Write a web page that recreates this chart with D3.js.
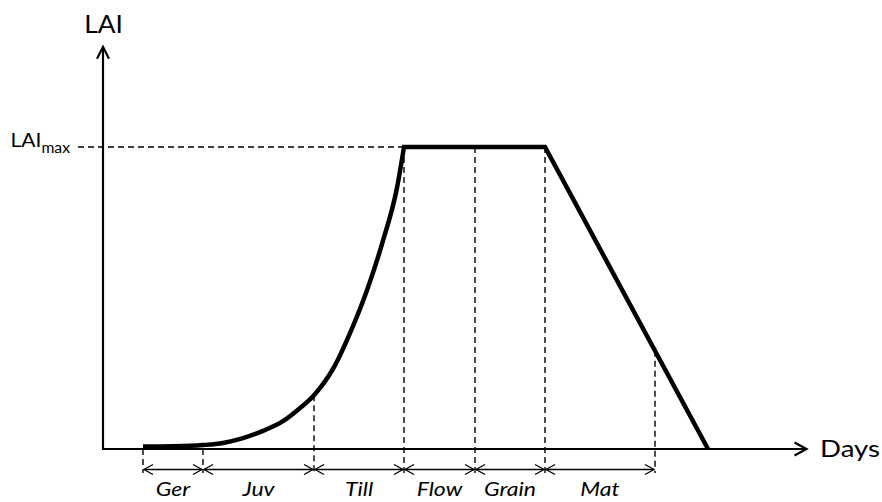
<!DOCTYPE html>
<html><head><meta charset="utf-8">
<script src="https://cdn.jsdelivr.net/npm/d3@7"></script>
<style>body{margin:0;background:#fff} svg{display:block}</style>
</head><body>
<svg id="chart" width="882" height="502"></svg>
<script>
// ---- data (days on x, LAI relative to LAImax on y) ----
const stages = ["Ger", "Juv", "Till", "Flow", "Grain", "Mat"];
const stageBounds = [8, 20, 42.2, 60.2, 74.4, 88.4, 110.4];
const boundLAI = [0, 0, 0.178, 1, 1, 1, 0.325];
const growthDays = [8, 14, 20, 24, 28, 32, 36, 39, 42.2, 46, 49.4, 52.8, 56, 58.8, 60.2];
const growthLAI = [0.008, 0.009, 0.013, 0.02, 0.036, 0.06, 0.092, 0.13, 0.178, 0.265, 0.384, 0.526, 0.69, 0.865, 1.0];
const declineDays = [60.2, 88.4, 121];
const declineLAI = [1, 1, 0];
const axisMaxDay = 140.6, axisMaxLAI = 1.33;
const yLabel = "LAI", xLabel = "Days", maxLabel = "LAI", maxSub = "max";

const svg = d3.select("#chart");
const FONT = "Lato, 'Open Sans', sans-serif";
const x = d3.scaleLinear().domain([0, 140]).range([103, 803]);
const y = d3.scaleLinear().domain([0, 1]).range([449, 147]);

function chevron(tx, ty, dir, len, half) {
  let p;
  if (dir === "up") p = [[tx - half, ty + len], [tx, ty], [tx + half, ty + len]];
  else if (dir === "right") p = [[tx - len, ty - half], [tx, ty], [tx - len, ty + half]];
  else p = [[tx + len, ty - half], [tx, ty], [tx + len, ty + half]];
  return d3.line()(p);
}

// LAImax dashed guide
svg.append("line")
  .attr("x1", 78).attr("x2", x(growthDays[growthDays.length - 1]))
  .attr("y1", y(1)).attr("y2", y(1))
  .attr("stroke", "#000").attr("stroke-width", 1.4).attr("stroke-dasharray", "6,4");

// stage boundary dashed verticals
const yArrow = 469.5;
svg.selectAll("line.bound").data(stageBounds).join("line").attr("class", "bound")
  .attr("x1", d => x(d)).attr("x2", d => x(d))
  .attr("y1", (d, i) => y(boundLAI[i])).attr("y2", 473)
  .attr("stroke", "#000").attr("stroke-width", 1.4).attr("stroke-dasharray", "6,4");

// axes
svg.append("path")
  .attr("d", d3.line()([[x(0), y(axisMaxLAI)], [x(0), y(0)], [x(axisMaxDay), y(0)]]))
  .attr("fill", "none").attr("stroke", "#000").attr("stroke-width", 2.2);
svg.append("path").attr("d", chevron(x(0), y(axisMaxLAI) - 0.5, "up", 12, 6))
  .attr("fill", "none").attr("stroke", "#000").attr("stroke-width", 2.2);
svg.append("path").attr("d", chevron(x(axisMaxDay) + 0.5, y(0), "right", 12, 6.5))
  .attr("fill", "none").attr("stroke", "#000").attr("stroke-width", 2.2);

// LAI curve
const gPts = growthDays.map((d, i) => [x(d), y(growthLAI[i])]);
const dPts = declineDays.map((d, i) => [x(d), y(declineLAI[i])]);
const dGrow = d3.line().curve(d3.curveMonotoneX)(gPts);
const dDecl = d3.line()(dPts).replace(/^M/, "L");
svg.append("path").attr("d", dGrow + dDecl)
  .attr("fill", "none").attr("stroke", "#000").attr("stroke-width", 4.5)
  .attr("stroke-linejoin", "miter").attr("stroke-linecap", "butt");

// stage double arrows
stages.forEach((s, i) => {
  const a = x(stageBounds[i]), b = x(stageBounds[i + 1]);
  svg.append("line").attr("x1", a + 1).attr("x2", b - 1).attr("y1", yArrow).attr("y2", yArrow)
    .attr("stroke", "#000").attr("stroke-width", 1.3);
  svg.append("path").attr("d", chevron(a + 1, yArrow, "left", 9, 5))
    .attr("fill", "none").attr("stroke", "#000").attr("stroke-width", 1.3);
  svg.append("path").attr("d", chevron(b - 1, yArrow, "right", 9, 5))
    .attr("fill", "none").attr("stroke", "#000").attr("stroke-width", 1.3);
});
svg.selectAll("text.stage").data(stages).join("text").attr("class", "stage")
  .attr("transform", (d, i) => `translate(${(x(stageBounds[i]) + x(stageBounds[i + 1])) / 2},496) scale(1.15,1)`)
  .attr("text-anchor", "middle")
  .attr("font-family", FONT).attr("font-style", "italic").attr("font-size", 20)
  .attr("fill", "#000").text(d => d);

// labels
svg.append("text").attr("transform", `translate(${x(0) + 0.5},33) scale(1.05,1)`).attr("text-anchor", "middle")
  .attr("font-family", FONT).attr("font-size", 25).attr("fill", "#000").text(yLabel);
svg.append("text").attr("transform", "translate(820,457) scale(1.15,1)")
  .attr("font-family", FONT).attr("font-size", 24).attr("fill", "#000").text(xLabel);
const t = svg.append("text").attr("transform", `translate(70,${y(1)}) scale(1.05,1)`).attr("text-anchor", "end")
  .attr("font-family", FONT).attr("font-size", 20).attr("fill", "#000");
t.append("tspan").text(maxLabel);
t.append("tspan").attr("font-size", 15).attr("dy", 6).text(maxSub);
</script>
</body></html>
